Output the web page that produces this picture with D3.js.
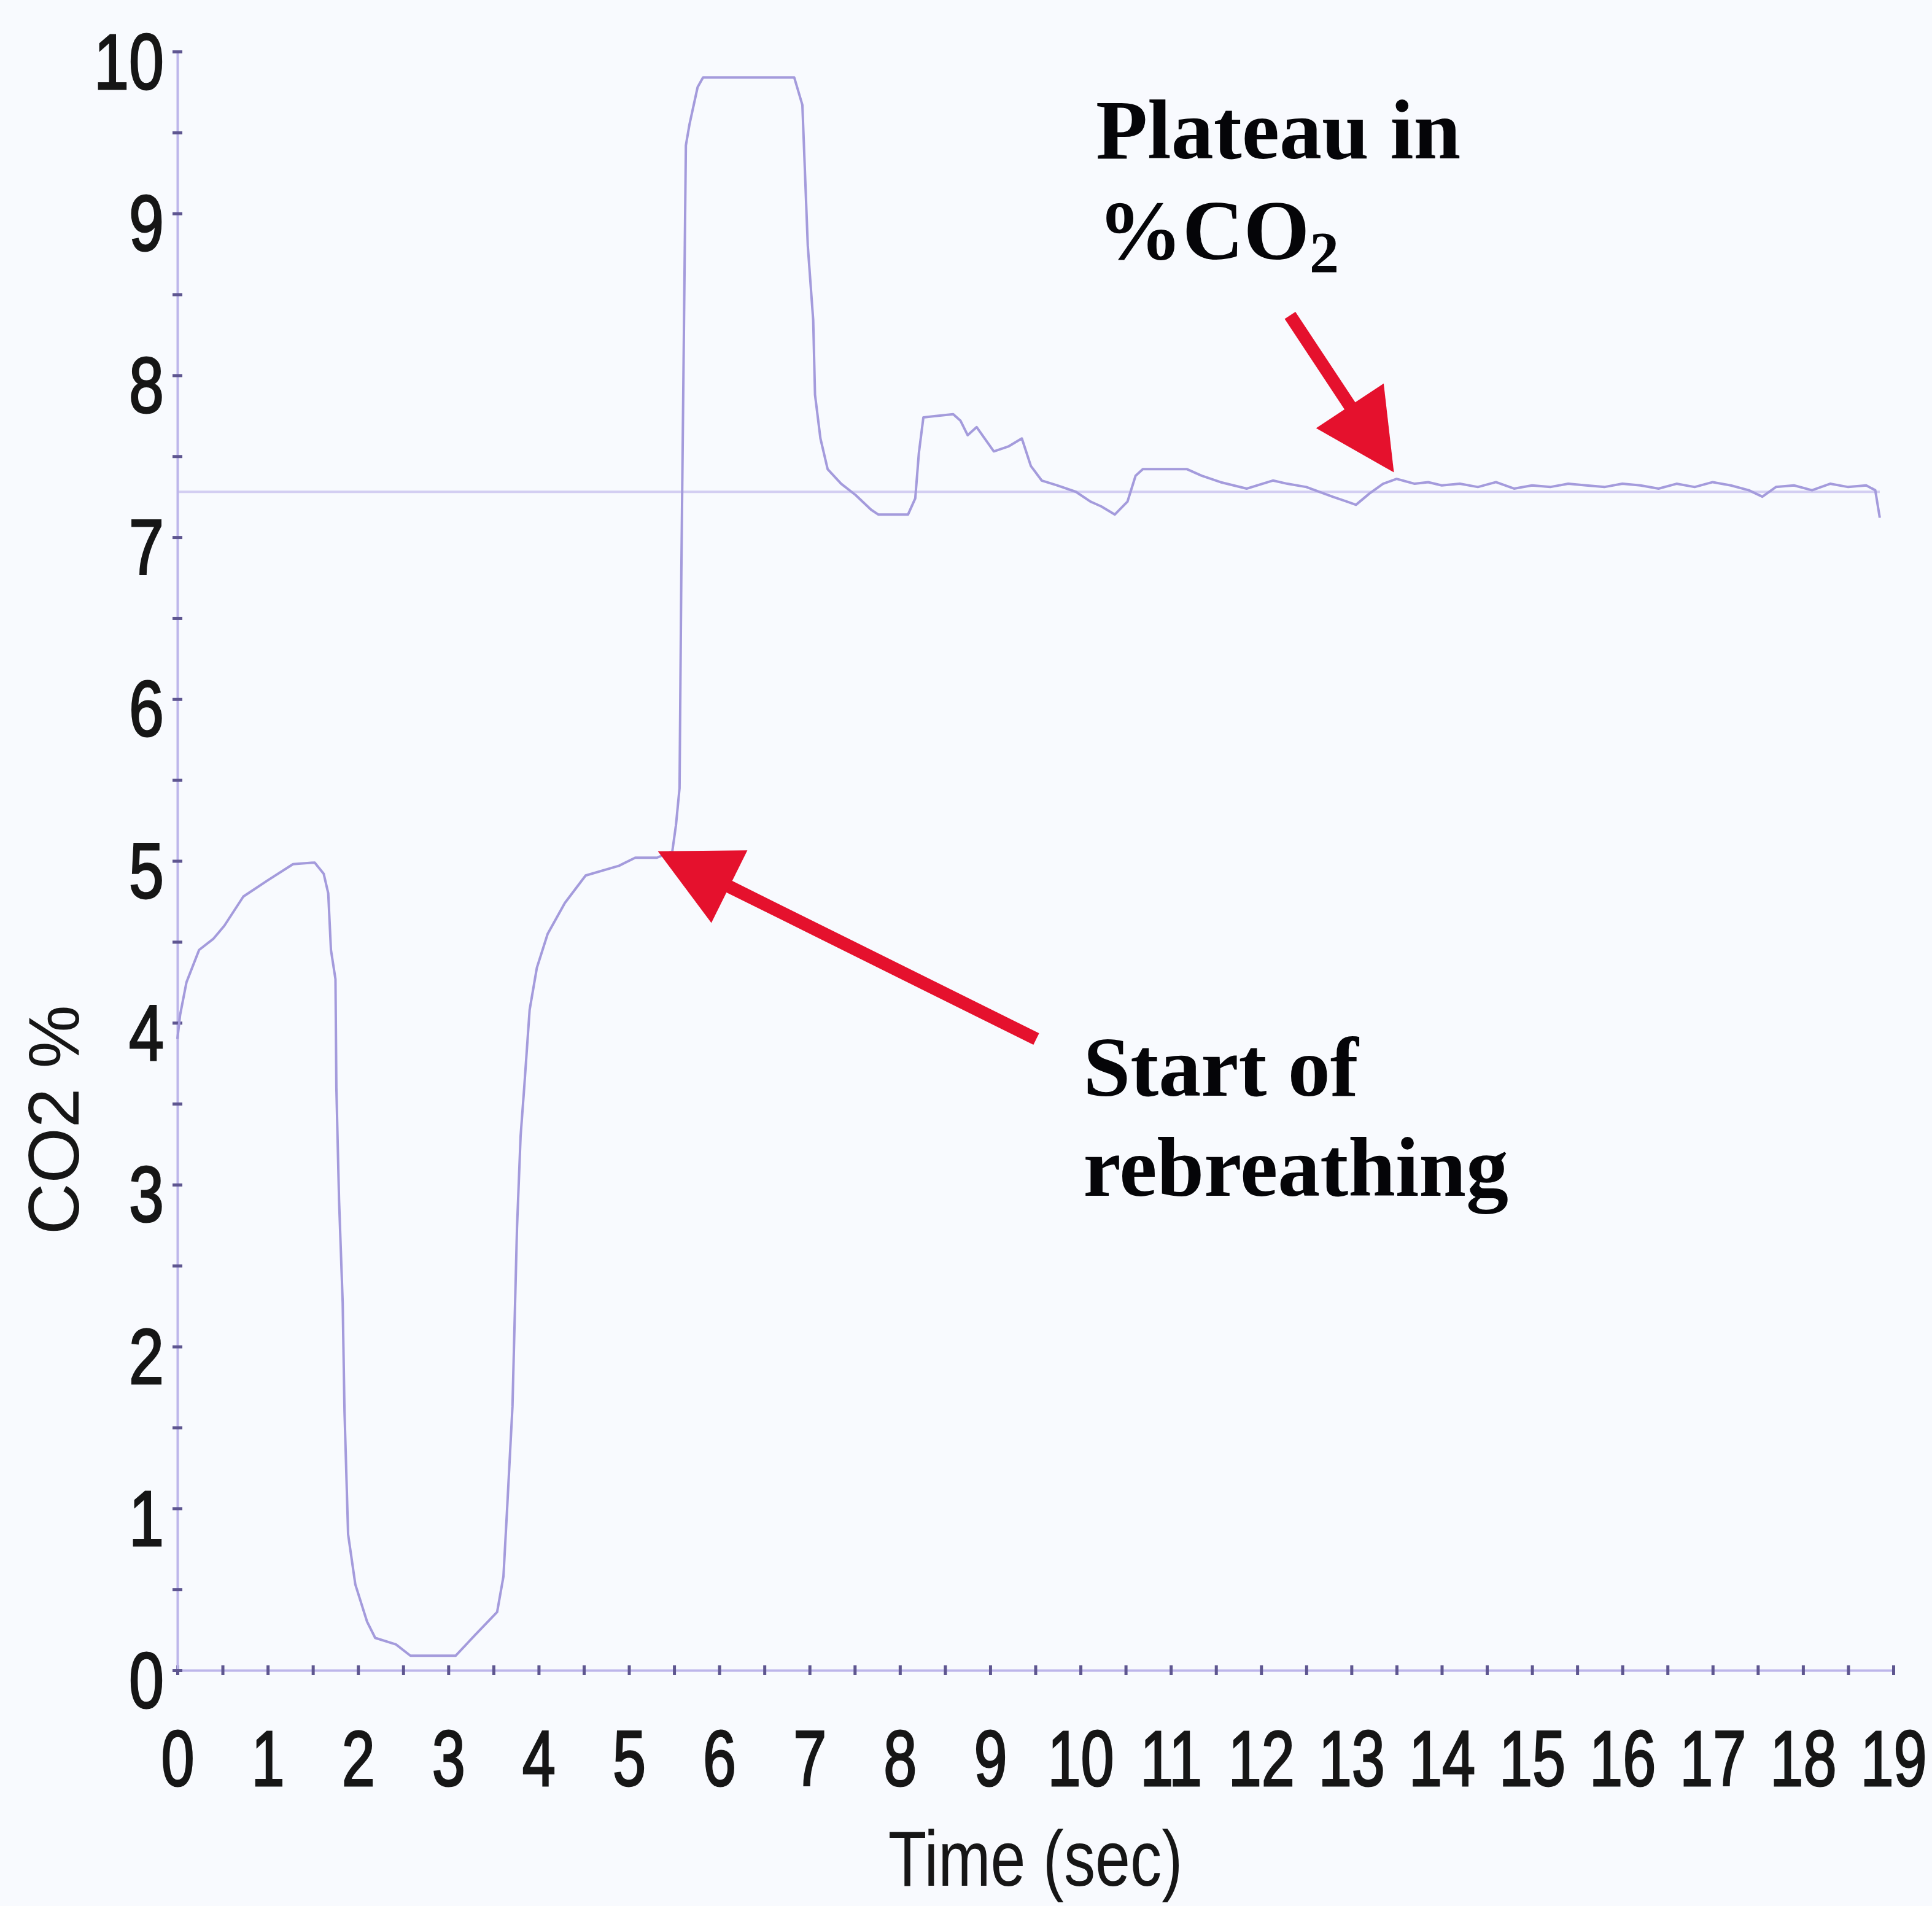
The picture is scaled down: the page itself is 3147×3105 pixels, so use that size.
<!DOCTYPE html>
<html>
<head>
<meta charset="utf-8">
<script src="https://cdnjs.cloudflare.com/ajax/libs/d3/7.8.5/d3.min.js"></script>
<style>
  html, body { margin: 0; padding: 0; background: #f8fafe; }
  svg { display: block; }
</style>
</head>
<body>
<script>
// ---- data ----
const timeSec = [0.00,0.03,0.10,0.24,0.40,0.52,0.73,1.00,1.28,1.52,1.62,1.67,1.70,1.75,1.76,1.79,1.83,1.85,1.89,1.97,2.10,2.19,2.42,2.58,3.08,3.30,3.54,3.61,3.65,3.71,3.76,3.80,3.84,3.90,3.98,4.10,4.29,4.52,4.89,5.07,5.31,5.48,5.52,5.56,5.58,5.61,5.63,5.67,5.76,5.82,6.83,6.92,6.98,7.04,7.06,7.12,7.20,7.35,7.51,7.68,7.76,8.09,8.17,8.21,8.26,8.59,8.67,8.75,8.85,9.04,9.20,9.35,9.45,9.57,9.74,9.95,10.11,10.23,10.38,10.52,10.61,10.69,11.18,11.34,11.55,11.84,12.13,12.29,12.50,12.79,12.95,13.05,13.20,13.35,13.50,13.70,13.85,14.00,14.20,14.40,14.60,14.80,15.00,15.20,15.40,15.60,15.80,16.00,16.20,16.40,16.60,16.80,17.00,17.20,17.40,17.55,17.70,17.90,18.10,18.30,18.50,18.70,18.80,18.85];
const co2Pct  = [3.90,4.05,4.25,4.45,4.52,4.60,4.78,4.88,4.98,4.99,4.92,4.80,4.45,4.27,3.60,2.90,2.27,1.60,0.84,0.53,0.30,0.20,0.16,0.09,0.09,0.22,0.36,0.58,0.99,1.63,2.73,3.30,3.60,4.08,4.34,4.55,4.74,4.91,4.97,5.02,5.02,5.06,5.22,5.45,6.79,8.36,9.42,9.55,9.78,9.84,9.84,9.67,8.80,8.34,7.88,7.61,7.42,7.33,7.26,7.17,7.14,7.14,7.24,7.52,7.74,7.76,7.72,7.63,7.68,7.53,7.56,7.61,7.44,7.35,7.32,7.28,7.22,7.19,7.14,7.22,7.38,7.42,7.42,7.38,7.34,7.30,7.35,7.33,7.31,7.25,7.22,7.20,7.27,7.33,7.36,7.33,7.34,7.32,7.33,7.31,7.34,7.30,7.32,7.31,7.33,7.32,7.31,7.33,7.32,7.30,7.33,7.31,7.34,7.32,7.29,7.25,7.31,7.32,7.29,7.33,7.31,7.32,7.29,7.12];
const xTickValues = d3.range(0, 19.01, 0.5);
const yTickValues = d3.range(0, 10.01, 0.5);
const plateauLevel = 7.28;
const plateauSpan = [0, 18.85];
const xTitle = "Time (sec)";
const yTitle = "CO2 %";
// annotations in data units
const annotStart = { lines: ["Start of", "rebreathing"], t: 10.03, v: [3.55, 2.93], tail: [9.51, 3.90], tip: [5.32, 5.06] };
const annotPlateau = { line1: "Plateau in", line2a: "%CO", line2b: "2", t: [10.17, 10.19], v: [9.34, 8.72], tail: [12.32, 8.37], tip: [13.47, 7.40] };

// ---- layout ----
const W = 3147, H = 3105;
const svg = d3.select("body").append("svg").attr("width", W).attr("height", H);
svg.append("rect").attr("width", W).attr("height", H).attr("fill", "#f8fafe");

const x = d3.scaleLinear().domain([0, 19]).range([289, 3084]);
const y = d3.scaleLinear().domain([0, 10]).range([2721, 84]);

const axisCol = "#bdb6ea", tickCol = "#5e5690", lineCol = "#a49bdc";

// reference plateau line
svg.append("line")
  .attr("x1", x(plateauSpan[0])).attr("x2", x(plateauSpan[1]))
  .attr("y1", y(plateauLevel)).attr("y2", y(plateauLevel))
  .attr("stroke", "#d3cef2").attr("stroke-width", 4);

// axes
const gx = svg.append("g").attr("transform", `translate(0,${y(0)})`)
  .call(d3.axisBottom(x).tickValues(xTickValues).tickSizeOuter(0).tickSize(8)
    .tickFormat(d => Number.isInteger(d) ? d : ""));
const gy = svg.append("g").attr("transform", `translate(${x(0)},0)`)
  .call(d3.axisLeft(y).tickValues(yTickValues).tickSizeOuter(0).tickSize(8)
    .tickFormat(d => Number.isInteger(d) ? d : ""));

[gx, gy].forEach(g => {
  g.select(".domain").attr("stroke", axisCol).attr("stroke-width", 4);
  g.selectAll(".tick line").attr("stroke", tickCol).attr("stroke-width", 5);
  g.selectAll(".tick text")
    .attr("fill", "#161616")
    .attr("stroke", "#161616").attr("stroke-width", 3)
    .attr("font-family", "'Liberation Sans', Arial, sans-serif")
    .attr("font-weight", "normal")
    .attr("font-size", 128)
    .attr("x", 0).attr("y", 0).attr("dy", 0);
});
gx.selectAll(".tick line").attr("y1", -8).attr("y2", 8);
gy.selectAll(".tick line").attr("x1", -8).attr("x2", 8);
gx.selectAll(".tick text").attr("text-anchor", "middle")
  .attr("transform", "translate(0,188) scale(0.76,1)");
gy.selectAll(".tick text").attr("text-anchor", "end")
  .attr("transform", "translate(-22,60) scale(0.8,1)");

// titles
svg.append("text")
  .attr("transform", `translate(${(x(0) + x(19)) / 2},3072) scale(0.8,1)`)
  .attr("text-anchor", "middle")
  .attr("font-family", "'Liberation Sans', Arial, sans-serif")
  .attr("font-size", 128).attr("fill", "#161616")
  .text(xTitle);
svg.append("text")
  .attr("transform", `translate(128,${y(3.4)}) rotate(-90)`)
  .attr("text-anchor", "middle")
  .attr("font-family", "'Liberation Sans', Arial, sans-serif")
  .attr("font-size", 116).attr("fill", "#161616")
  .text(yTitle);

// data line
const line = d3.line().x((d, i) => x(timeSec[i])).y(d => y(d));
svg.append("path").datum(co2Pct)
  .attr("d", line)
  .attr("fill", "none").attr("stroke", lineCol).attr("stroke-width", 4)
  .attr("stroke-linejoin", "round");

// arrows
function arrow(tail, tip) {
  const x0 = x(tail[0]), y0 = y(tail[1]), x1 = x(tip[0]), y1 = y(tip[1]);
  const dx = x1 - x0, dy = y1 - y0, L = Math.hypot(dx, dy);
  const ux = dx / L, uy = dy / L, px = -uy, py = ux;
  const hl = 130, hw = 66;
  const bx = x1 - ux * hl, by = y1 - uy * hl;
  svg.append("line").attr("x1", x0).attr("y1", y0).attr("x2", bx + ux * 10).attr("y2", by + uy * 10)
    .attr("stroke", "#e5112d").attr("stroke-width", 21);
  svg.append("path")
    .attr("d", `M${x1},${y1}L${bx + px * hw},${by + py * hw}L${bx - px * hw},${by - py * hw}Z`)
    .attr("fill", "#e5112d");
}
arrow(annotStart.tail, annotStart.tip);
arrow(annotPlateau.tail, annotPlateau.tip);

// annotation texts
const serif = "'Liberation Serif', 'Times New Roman', serif";
annotStart.lines.forEach((s, i) => {
  svg.append("text").attr("x", x(annotStart.t)).attr("y", y(annotStart.v[i]))
    .attr("font-family", serif).attr("font-weight", "bold").attr("font-size", 138)
    .attr("fill", "#050508").text(s);
});
svg.append("text").attr("x", x(annotPlateau.t[0])).attr("y", y(annotPlateau.v[0]))
  .attr("font-family", serif).attr("font-weight", "bold").attr("font-size", 138)
  .attr("fill", "#050508").text(annotPlateau.line1);
const t2 = svg.append("text").attr("x", x(annotPlateau.t[1])).attr("y", y(annotPlateau.v[1]))
  .attr("font-family", serif).attr("font-weight", "bold").attr("font-size", 138)
  .attr("fill", "#050508");
t2.append("tspan").text(annotPlateau.line2a);
t2.append("tspan").attr("font-size", 96).attr("dy", 22).text(annotPlateau.line2b);
</script>
</body>
</html>
